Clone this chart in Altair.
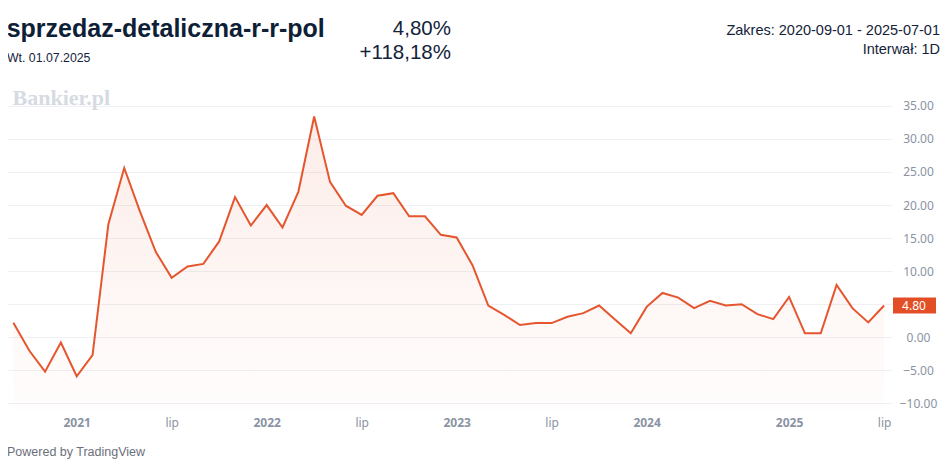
import altair as alt
import pandas as pd
import json

# ---- data (monthly points, oldest first) ----
values = [2.2, -2.0, -5.2, -0.8, -5.9, -2.7, 17.1, 25.6, 19.0, 12.9,
          9.0, 10.7, 11.1, 14.5, 21.2, 16.9, 20.0, 16.6, 22.0, 33.4,
          23.5, 19.9, 18.5, 21.4, 21.8, 18.3, 18.3, 15.5, 15.1, 10.9,
          4.8, 3.4, 1.85, 2.15, 2.15, 3.1, 3.65, 4.8, 2.7, 0.6,
          4.6, 6.7, 6.0, 4.4, 5.5, 4.8, 5.0, 3.5, 2.75, 6.1,
          0.6, 0.6, 7.9, 4.4, 2.25, 4.8]
tick_pos = [4, 10, 16, 22, 28, 34, 40, 49, 55]
tick_labels = ["2021", "lip", "2022", "lip", "2023", "lip", "2024", "2025", "lip"]
y_ticks = [-10, -5, 0, 5, 10, 15, 20, 25, 30, 35]

title_text = "sprzedaz-detaliczna-r-r-pol"
date_text = "Wt. 01.07.2025"
last_text = "4,80%"
change_text = "+118,18%"
range_text = "Zakres: 2020-09-01 - 2025-07-01"
interval_text = "Interwał: 1D"
watermark = "Bankier.pl"
powered = "Powered by TradingView"

df = pd.DataFrame({"i": list(range(len(values))), "v": values})
last_df = pd.DataFrame({"i": [len(values) - 1], "v": [values[-1]]})

W, H = 884, 318
Y_MIN, Y_MAX = -11.0, 37.1
X_MIN, X_MAX = -0.34, 55.5
LINE = "#e5562e"
DARK = "#13233a"
GRAY = "#8a93a3"

xscale = alt.Scale(domain=[X_MIN, X_MAX], nice=False, zero=False)
yscale = alt.Scale(domain=[Y_MIN, Y_MAX], nice=False, zero=False)

month_test = "indexof(" + json.dumps([p for p, l in zip(tick_pos, tick_labels) if l == "lip"]) + ", datum.value) >= 0"
label_expr = json.dumps(tick_labels) + "[indexof(" + json.dumps(tick_pos) + ", datum.value)]"
# the price badge covers the axis label next to the last value
y_label_expr = f"abs(datum.value - ({values[-1]})) < 2.5 ? '' : datum.label"

xaxis = alt.Axis(values=tick_pos, labelExpr=label_expr, grid=False, domain=False, ticks=False,
                 tickSize=0, labelPadding=7, labelFont="Noto Sans", labelFontSize=12,
                 labelColor=GRAY, title=None, labelFlush=False, labelOverlap=False,
                 labelFontWeight={"condition": {"test": month_test, "value": "normal"}, "value": "bold"})
yaxis = alt.Axis(orient="right", values=y_ticks, format=".2f", grid=True, gridColor="#eef0f4",
                 domain=False, ticks=False, tickSize=0, labelAlign="center", labelPadding=26,
                 labelFont="Noto Sans", labelFontSize=12, labelColor=GRAY, title=None,
                 labelBaseline="middle", labelOverlap=False, labelFlush=False,
                 labelExpr=y_label_expr)

base = alt.Chart(df)

area = base.mark_area(
    color=alt.Gradient(gradient="linear",
                       stops=[alt.GradientStop(color="rgba(229,86,46,0.11)", offset=0),
                              alt.GradientStop(color="rgba(229,86,46,0.01)", offset=1)],
                       x1=1, x2=1, y1=0, y2=1)
).encode(
    x=alt.X("i:Q", scale=xscale, axis=xaxis),
    y=alt.Y("v:Q", scale=yscale, axis=yaxis),
    y2=alt.datum(Y_MIN),
)

line = base.mark_line(color=LINE, strokeWidth=2).encode(
    x=alt.X("i:Q", scale=xscale, axis=xaxis),
    y=alt.Y("v:Q", scale=yscale, axis=yaxis),
)

badge = alt.Chart(last_df).mark_rule(color="#e24f26", strokeWidth=16, strokeCap="butt").encode(
    x=alt.value(W + 1), x2=alt.value(W + 44),
    y=alt.Y("v:Q", scale=yscale, axis=yaxis),
)
badge_text = alt.Chart(last_df).mark_text(color="white", font="Noto Sans", fontSize=12,
                                          align="center", baseline="middle").encode(
    x=alt.value(W + 22),
    y=alt.Y("v:Q", scale=yscale, axis=yaxis),
    text=alt.Text("v:Q", format=".2f"),
)


def label(text, x, y, size, weight="normal", align="left", color=DARK, font="Liberation Sans"):
    return alt.Chart(pd.DataFrame({"t": [text]})).mark_text(
        align=align, baseline="alphabetic", fontSize=size, fontWeight=weight,
        font=font, color=color
    ).encode(x=alt.value(x), y=alt.value(y), text="t:N")


texts = [
    label(title_text, -1.3, -54.7, 25, weight="bold", color="#0e2036"),
    label(date_text, -1, -30, 12.3),
    label(last_text, 443, -57.5, 20.5, align="right"),
    label(change_text, 443, -33, 20.5, align="right"),
    label(range_text, 932, -57, 14.5, align="right"),
    label(interval_text, 932, -38, 14.5, align="right"),
    label(watermark, 4.5, 13, 22, weight="bold", color="#d6dbe3", font="Liberation Serif"),
    label(powered, -1, 364, 12.5, color="#6b6f7b"),
]

chart = alt.layer(area, line, badge, badge_text, *texts).properties(
    width=W, height=H,
    autosize=alt.AutoSizeParams(type="none"),
    padding={"left": 0, "top": 84, "right": 48, "bottom": 50},
    background="white",
).configure_view(strokeWidth=0)

chart.save("out.html", embed_options={"renderer": "svg", "actions": False})
